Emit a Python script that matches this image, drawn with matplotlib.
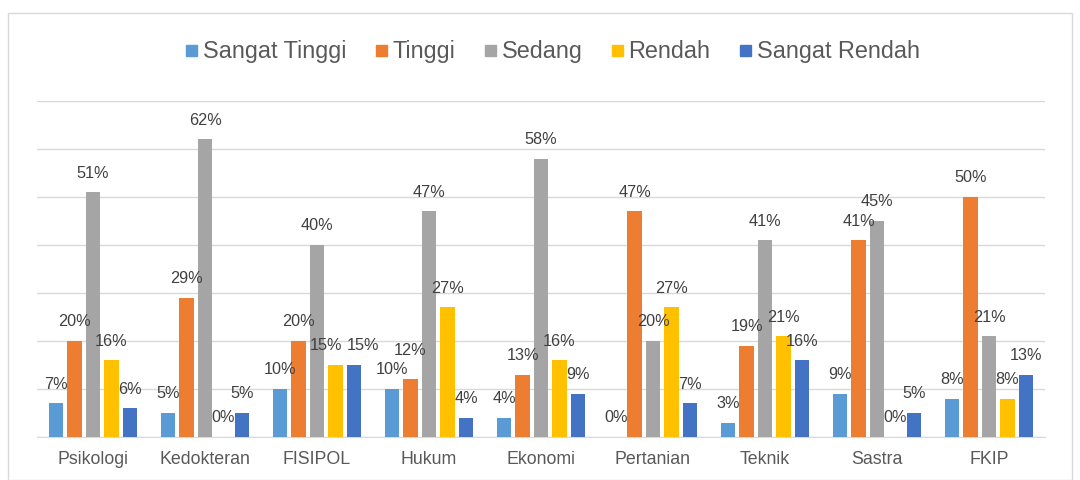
import numpy as np
import matplotlib.pyplot as plt
from matplotlib.patches import Rectangle

plt.rcParams['font.family'] = ['Liberation Sans', 'DejaVu Sans']

# data (percent)
faculties = ["Psikologi", "Kedokteran", "FISIPOL", "Hukum", "Ekonomi",
             "Pertanian", "Teknik", "Sastra", "FKIP"]
series_names = ["Sangat Tinggi", "Tinggi", "Sedang", "Rendah", "Sangat Rendah"]
sangat_tinggi = [7, 5, 10, 10, 4, 0, 3, 9, 8]
tinggi = [20, 29, 20, 12, 13, 47, 19, 41, 50]
sedang = [51, 62, 40, 47, 58, 20, 41, 45, 21]
rendah = [16, 0, 15, 27, 16, 27, 21, 0, 8]
sangat_rendah = [6, 5, 15, 4, 9, 7, 16, 5, 13]

colours = ["#5B9BD5", "#ED7D31", "#A5A5A5", "#FFC000", "#4472C4"]
values = [sangat_tinggi, tinggi, sedang, rendah, sangat_rendah]

W, H = 1080, 480
fig = plt.figure(figsize=(W / 100, H / 100), dpi=100, facecolor='white')
# chart frame
fig.patches.append(Rectangle((8 / W, 0.0), 1 - 16 / W, 1 - 13 / H,
                             transform=fig.transFigure, fill=False,
                             edgecolor='#D9D9D9', linewidth=1))

ax = fig.add_axes([37 / W, 1 - 437 / H, (1045 - 37) / W, (437 - 101) / H])
x = np.arange(len(faculties))
pitch = 0.165
width = 0.13

labels = [[] for _ in faculties]
for i, (name, vals, col) in enumerate(zip(series_names, values, colours)):
    pos = x + (i - 2) * pitch
    ax.bar(pos, vals, width=width, color=col, label=name, zorder=3)
    for k, (px, v) in enumerate(zip(pos, vals)):
        ann = ax.annotate(f"{v}%", (px, v), xytext=(0, 10.5),
                          textcoords='offset points', ha='center',
                          va='baseline', fontsize=11.7, color='#404040', zorder=4)
        labels[k].append((ann, v))

ax.set_xlim(-0.5, len(faculties) - 0.5)
ax.set_ylim(0, 70)
ax.set_yticks(np.arange(0, 71, 10))
ax.set_yticklabels([])
ax.tick_params(axis='y', length=0)
ax.tick_params(axis='x', length=0, labelsize=12.8, labelcolor='#595959', pad=10)
ax.set_xticks(x)
ax.set_xticklabels(faculties)
ax.grid(axis='y', color='#D9D9D9', linewidth=1, zorder=0)
for s in ['top', 'right', 'left']:
    ax.spines[s].set_visible(False)
ax.spines['bottom'].set_color('#D9D9D9')

fig.canvas.draw()
r = fig.canvas.get_renderer()

# legend drawn by hand so all entries share one baseline
sq, gap_txt, gap_item = 11, 6, 29
base_y = H - 58
texts = [fig.text(0, base_y / H, n, fontsize=16.8, color='#595959', va='baseline')
         for n in series_names]
widths = [t.get_window_extent(r).width for t in texts]
total = sum(sq + gap_txt + w for w in widths) + gap_item * (len(texts) - 1)
cx = 553 - total / 2
for t, w, col in zip(texts, widths, colours):
    fig.patches.append(Rectangle((cx / W, (base_y + 2) / H), sq / W, sq / H,
                                 transform=fig.transFigure, color=col))
    t.set_x((cx + sq + gap_txt) / W)
    cx += sq + gap_txt + w + gap_item

# nudge neighbouring data labels apart, like the spreadsheet does
px2pt = 72 / fig.dpi
for group in labels:
    for (a, va), (b, vb) in zip(group[:-1], group[1:]):
        ea, eb = a.get_window_extent(r), b.get_window_extent(r)
        if not ea.overlaps(eb):
            continue
        if va == vb:
            shift = (ea.x1 - eb.x0) / 2 + 2
            a.xyann = (a.xyann[0] - shift * px2pt, a.xyann[1])
            b.xyann = (b.xyann[0] + shift * px2pt, b.xyann[1])
        else:
            up, low = (b, ea) if vb > va else (a, eb)
            eu = up.get_window_extent(r)
            lift = low.y1 - eu.y0 + 4
            up.xyann = (up.xyann[0], up.xyann[1] + lift * px2pt)

fig.savefig('out.png', dpi=100, facecolor='white')
